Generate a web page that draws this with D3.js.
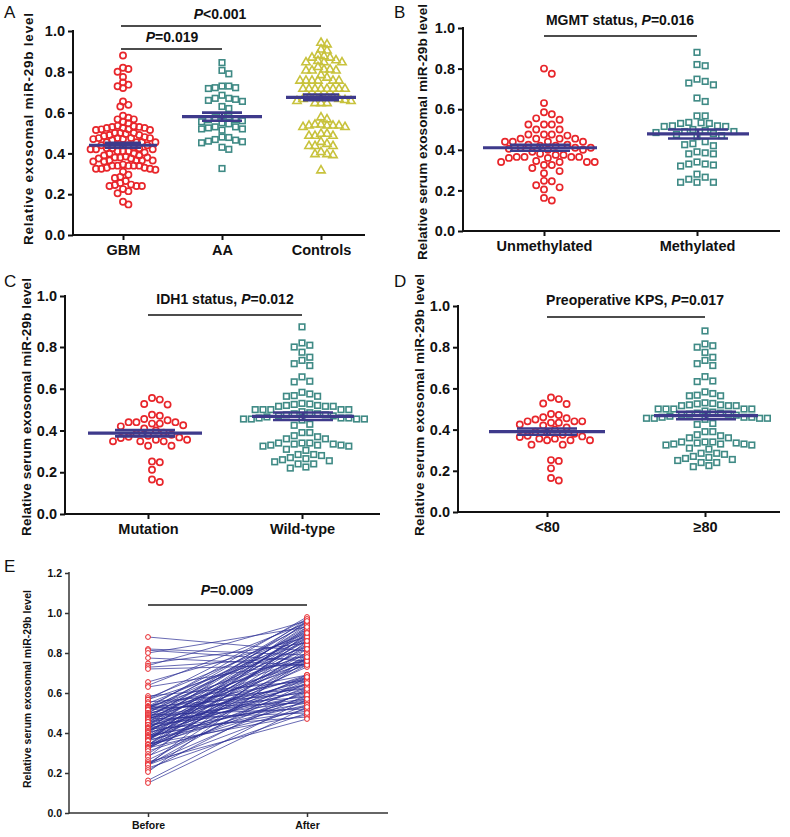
<!DOCTYPE html>
<html><head><meta charset="utf-8">
<script src="https://cdn.jsdelivr.net/npm/d3@7"></script>
<style>
html,body{margin:0;padding:0;background:#fff;}
text{font-family:Arial,"Liberation Sans",sans-serif;}
</style></head>
<body>
<svg id="fig" width="790" height="837"></svg>
<script>
// ---------------- DATA ----------------
const catsA = ["GBM", "AA", "Controls"];
const gbmVals = [0.88,0.82,0.814,0.80,0.775,0.748,0.737,0.729,0.72,0.655,0.638,0.63,0.585,0.575,0.567,0.567,0.555,0.548,0.535,0.533,0.53,0.53,0.525,0.525,0.525,0.518,0.518,0.515,0.515,0.50,0.50,0.50,0.495,0.49,0.49,0.485,0.48,0.475,0.475,0.475,0.475,0.47,0.47,0.465,0.455,0.455,0.455,0.455,0.44,0.44,0.44,0.44,0.44,0.43,0.425,0.425,0.425,0.42,0.42,0.42,0.41,0.41,0.41,0.405,0.40,0.40,0.39,0.39,0.385,0.38,0.38,0.38,0.375,0.375,0.365,0.365,0.365,0.365,0.36,0.36,0.345,0.34,0.34,0.34,0.34,0.34,0.33,0.33,0.325,0.325,0.325,0.32,0.31,0.295,0.285,0.28,0.265,0.255,0.247,0.245,0.24,0.24,0.24,0.225,0.215,0.205,0.163,0.15];
const aaVals = [0.845,0.807,0.79,0.73,0.73,0.722,0.722,0.718,0.685,0.67,0.67,0.665,0.66,0.655,0.63,0.62,0.584,0.58,0.575,0.566,0.565,0.56,0.555,0.55,0.545,0.53,0.53,0.525,0.52,0.52,0.514,0.48,0.478,0.468,0.465,0.46,0.457,0.452,0.43,0.42,0.326];
const ctrlVals = [0.946,0.938,0.913,0.908,0.886,0.88,0.873,0.873,0.86,0.857,0.85,0.85,0.85,0.827,0.815,0.815,0.81,0.81,0.81,0.787,0.775,0.76,0.76,0.76,0.76,0.76,0.76,0.72,0.72,0.72,0.72,0.72,0.72,0.72,0.72,0.68,0.68,0.68,0.68,0.68,0.67,0.67,0.665,0.66,0.66,0.65,0.65,0.65,0.58,0.57,0.545,0.545,0.54,0.54,0.54,0.54,0.533,0.533,0.5,0.5,0.49,0.49,0.49,0.46,0.45,0.44,0.44,0.44,0.41,0.4,0.4,0.395,0.32];
const meansA = [0.44, 0.58, 0.675];
const semsA = [0.012, 0.02, 0.014];

const catsB = ["Unmethylated", "Methylated"];
const unmethVals = [0.80,0.775,0.63,0.585,0.575,0.555,0.548,0.525,0.525,0.525,0.50,0.50,0.475,0.475,0.475,0.47,0.455,0.455,0.455,0.455,0.44,0.44,0.44,0.44,0.425,0.425,0.42,0.42,0.41,0.41,0.41,0.405,0.40,0.40,0.39,0.38,0.375,0.375,0.365,0.365,0.365,0.365,0.36,0.36,0.345,0.34,0.34,0.34,0.34,0.325,0.325,0.31,0.295,0.285,0.247,0.245,0.225,0.215,0.205,0.163,0.15];
const methVals = [0.88,0.82,0.814,0.748,0.737,0.729,0.72,0.655,0.638,0.567,0.567,0.535,0.533,0.53,0.53,0.518,0.518,0.515,0.515,0.50,0.495,0.49,0.49,0.485,0.48,0.475,0.47,0.465,0.44,0.43,0.425,0.42,0.39,0.385,0.38,0.38,0.34,0.33,0.33,0.325,0.32,0.28,0.265,0.255,0.24,0.24,0.24];
const meansB = [0.41, 0.478];
const semsB = [0.015, 0.022];

const catsC = ["Mutation", "Wild-type"];
const mutVals = [0.556,0.548,0.527,0.524,0.476,0.471,0.455,0.449,0.44,0.44,0.44,0.433,0.433,0.425,0.42,0.41,0.40,0.39,0.385,0.38,0.375,0.37,0.367,0.364,0.356,0.356,0.348,0.348,0.348,0.327,0.327,0.252,0.248,0.212,0.165,0.153];
const wildVals = [0.879,0.816,0.807,0.80,0.775,0.751,0.736,0.72,0.711,0.657,0.636,0.633,0.583,0.575,0.567,0.564,0.564,0.53,0.527,0.52,0.516,0.516,0.516,0.52,0.525,0.50,0.50,0.50,0.50,0.50,0.49,0.485,0.48,0.48,0.475,0.475,0.47,0.47,0.465,0.46,0.455,0.455,0.45,0.455,0.455,0.46,0.46,0.43,0.425,0.39,0.39,0.37,0.36,0.36,0.375,0.34,0.34,0.335,0.33,0.33,0.325,0.325,0.33,0.335,0.34,0.31,0.305,0.285,0.28,0.285,0.265,0.27,0.25,0.24,0.24,0.26,0.255,0.225,0.22];
const meansC = [0.387, 0.468];
const semsC = [0.015, 0.018];

const catsD = ["<80", "\u226580"];
const kpsLowVals = [0.556,0.548,0.527,0.524,0.476,0.471,0.46,0.455,0.449,0.44,0.44,0.44,0.433,0.433,0.425,0.42,0.41,0.40,0.39,0.385,0.38,0.375,0.37,0.367,0.364,0.356,0.356,0.348,0.348,0.348,0.327,0.327,0.252,0.248,0.212,0.165,0.153];
const kpsHighVals = [0.879,0.816,0.807,0.80,0.775,0.751,0.736,0.72,0.711,0.657,0.636,0.633,0.583,0.575,0.567,0.564,0.564,0.53,0.527,0.52,0.516,0.516,0.516,0.52,0.525,0.50,0.50,0.50,0.50,0.50,0.49,0.485,0.48,0.48,0.475,0.475,0.47,0.47,0.465,0.46,0.455,0.455,0.45,0.455,0.455,0.46,0.46,0.43,0.425,0.39,0.39,0.37,0.36,0.36,0.375,0.34,0.34,0.335,0.33,0.33,0.325,0.325,0.33,0.335,0.34,0.31,0.305,0.285,0.28,0.285,0.265,0.27,0.25,0.24,0.24,0.26,0.255,0.225,0.22];
const meansD = [0.39, 0.468];
const semsD = [0.015, 0.018];

const catsE = ["Before", "After"];
const beforeVals = [0.88,0.82,0.814,0.80,0.775,0.748,0.737,0.729,0.72,0.655,0.638,0.63,0.585,0.575,0.567,0.567,0.555,0.548,0.535,0.533,0.53,0.53,0.525,0.525,0.525,0.518,0.518,0.515,0.515,0.50,0.50,0.50,0.495,0.49,0.49,0.485,0.48,0.475,0.475,0.475,0.475,0.47,0.47,0.465,0.455,0.455,0.455,0.455,0.44,0.44,0.44,0.44,0.44,0.43,0.425,0.425,0.425,0.42,0.42,0.42,0.41,0.41,0.41,0.405,0.40,0.40,0.39,0.39,0.385,0.38,0.38,0.38,0.375,0.375,0.365,0.365,0.365,0.365,0.36,0.36,0.345,0.34,0.34,0.34,0.34,0.34,0.33,0.33,0.325,0.325,0.325,0.32,0.31,0.295,0.285,0.28,0.265,0.255,0.247,0.245,0.24,0.24,0.24,0.225,0.215,0.205,0.163,0.15];
const afterVals = [0.81,0.79,0.76,0.93,0.74,0.85,0.96,0.78,0.74,0.88,0.95,0.76,0.66,0.90,0.97,0.83,0.62,0.87,0.69,0.94,0.60,0.79,0.98,0.86,0.55,0.91,0.67,0.77,0.58,0.89,0.64,0.96,0.75,0.52,0.84,0.68,0.92,0.57,0.80,0.63,0.95,0.74,0.50,0.88,0.66,0.93,0.56,0.82,0.61,0.97,0.77,0.53,0.86,0.69,0.90,0.59,0.78,0.64,0.94,0.48,0.83,0.67,0.76,0.55,0.91,0.62,0.85,0.51,0.73,0.68,0.89,0.57,0.80,0.65,0.96,0.54,0.75,0.87,0.60,0.92,0.49,0.79,0.66,0.84,0.58,0.93,0.63,0.74,0.52,0.88,0.69,0.77,0.56,0.82,0.61,0.90,0.65,0.47,0.76,0.59,0.86,0.54,0.68,0.50,0.62,0.78,0.57,0.53];
const ticksAD = [0.0, 0.2, 0.4, 0.6, 0.8, 1.0];
const ticksE = [0.0, 0.2, 0.4, 0.6, 0.8, 1.0, 1.2];

// ---------------- STYLE ----------------
const RED = "#e8262b", TEAL = "#3f8a85", OLIVE = "#c8c23c", MEAN = "#3e3a8b";
const svg = d3.select("#fig");
const fmt = d3.format(".1f");

function swarm(vals, y, cx, diam) {
  const pts = vals.map(v => ({v, py: y(v)})).sort((a, b) => d3.descending(a.v, b.v));
  const placed = [];
  for (const p of pts) {
    let best = null;
    for (let k = 0; k < 80 && best === null; k++) {
      const cands = k === 0 ? [0] : [k * diam / 2, -k * diam / 2];
      for (const o of cands) {
        if (placed.every(q => (q.dx - o) ** 2 + (q.py - p.py) ** 2 >= (diam * 0.97) ** 2)) { best = o; break; }
      }
    }
    p.dx = best; placed.push(p);
  }
  return pts.map(p => ({v: p.v, py: p.py, px: cx + p.dx}));
}

function drawMarker(g, pts, shape, color) {
  if (shape === "circle") {
    g.selectAll(null).data(pts).join("circle")
      .attr("cx", d => d.px).attr("cy", d => d.py).attr("r", 3.1)
      .attr("fill", "none").attr("stroke", color).attr("stroke-width", 1.7);
  } else if (shape === "square") {
    const s = 5.6;
    g.selectAll(null).data(pts).join("rect")
      .attr("x", d => d.px - s / 2).attr("y", d => d.py - s / 2).attr("width", s).attr("height", s)
      .attr("fill", "none").attr("stroke", color).attr("stroke-width", 1.6);
  } else {
    const sym = d3.symbol(d3.symbolTriangle, 30);
    g.selectAll(null).data(pts).join("path")
      .attr("transform", d => `translate(${d.px},${d.py + 0.8})`).attr("d", sym)
      .attr("fill", "none").attr("stroke", color).attr("stroke-width", 1.6);
  }
}

function drawMean(g, cx, y, m, s, hw, hw2) {
  g.append("line").attr("x1", cx - hw).attr("x2", cx + hw).attr("y1", y(m)).attr("y2", y(m))
    .attr("stroke", MEAN).attr("stroke-width", 3.2);
  [m - s, m + s].forEach(v => g.append("line").attr("x1", cx - hw2).attr("x2", cx + hw2)
    .attr("y1", y(v)).attr("y2", y(v)).attr("stroke", MEAN).attr("stroke-width", 2.6));
  g.append("line").attr("x1", cx).attr("x2", cx).attr("y1", y(m - s)).attr("y2", y(m + s))
    .attr("stroke", MEAN).attr("stroke-width", 2.6);
}

function sigText(g, x, y, pre, post, size) {
  const t = g.append("text").attr("x", x).attr("y", y).attr("text-anchor", "middle")
    .attr("font-size", size).attr("font-weight", "bold").attr("fill", "#111");
  if (pre) t.append("tspan").text(pre);
  t.append("tspan").attr("font-style", "italic").text("P");
  t.append("tspan").text(post);
}

function axes(cfg) {
  const g = svg.append("g");
  const y = cfg.y, x = cfg.x;
  const ya = d3.axisLeft(y).tickValues(cfg.ticks).tickFormat(fmt).tickSize(cfg.tick).tickPadding(3).tickSizeOuter(0);
  const gy = g.append("g").attr("transform", `translate(${cfg.left},0)`).call(ya);
  gy.select(".domain").remove();
  gy.selectAll(".tick line").attr("stroke", cfg.axColor).attr("stroke-width", cfg.axW);
  gy.selectAll(".tick text").attr("font-size", cfg.tickFont).attr("font-weight", "bold").attr("fill", "#111")
    .attr("font-family", "Arial, 'Liberation Sans', sans-serif");
  const xa = d3.axisBottom(x).tickSize(cfg.tick).tickPadding(cfg.xPad).tickSizeOuter(0);
  const gx = g.append("g").attr("transform", `translate(0,${cfg.bottom})`).call(xa);
  gx.select(".domain").remove();
  gx.selectAll(".tick line").attr("stroke", cfg.axColor).attr("stroke-width", cfg.axW);
  gx.selectAll(".tick text").attr("font-size", cfg.catFont).attr("font-weight", "bold").attr("fill", "#111")
    .attr("font-family", "Arial, 'Liberation Sans', sans-serif");
  g.append("line").attr("x1", cfg.left).attr("x2", cfg.left).attr("y1", cfg.top).attr("y2", cfg.bottom + cfg.axW / 2)
    .attr("stroke", cfg.axColor).attr("stroke-width", cfg.axW);
  g.append("line").attr("x1", cfg.left).attr("x2", cfg.right).attr("y1", cfg.bottom).attr("y2", cfg.bottom)
    .attr("stroke", cfg.axColor).attr("stroke-width", cfg.axW);
  g.append("text").attr("transform", `translate(${cfg.labX},${cfg.labY}) rotate(-90)`)
    .attr("text-anchor", "middle").attr("font-size", cfg.labFont).attr("font-weight", "bold").attr("fill", "#111")
    .attr("textLength", cfg.labLen).attr("lengthAdjust", "spacing").text(cfg.label);
  svg.append("text").attr("x", cfg.letX).attr("y", cfg.letY).attr("font-size", 17).attr("fill", "#111").text(cfg.letter);
  return g;
}

// ---------------- PANEL A ----------------
{
  const y = d3.scaleLinear().domain([0, 1]).range([235, 31]);
  const x = d3.scalePoint().domain(catsA).range([123, 321]);
  const g = axes({y, x, left: 73, right: 365, top: 30, bottom: 235, ticks: ticksAD, tick: 5, axW: 2, axColor: "#111",
    tickFont: 14.5, catFont: 14.5, xPad: 5, label: "Relative exosomal miR-29b level", labX: 33, labY: 129, labFont: 13.5, labLen: 232,
    letter: "A", letX: 4, letY: 18});
  const sets = [[gbmVals, "circle", RED, 5.4], [aaVals, "square", TEAL, 6.8], [ctrlVals, "triangle", OLIVE, 6.0]];
  const hws = [[34, 18], [40, 20], [35, 18]];
  sets.forEach(([vals, shape, col, dm], i) => {
    drawMarker(g, swarm(vals, y, x(catsA[i]), dm), shape, col);
  });
  sets.forEach((s, i) => drawMean(g, x(catsA[i]), y, meansA[i], semsA[i], hws[i][0], hws[i][1]));
  g.append("line").attr("x1", x("GBM") - 2).attr("x2", x("Controls")).attr("y1", 26).attr("y2", 26).attr("stroke", "#111").attr("stroke-width", 1.6);
  g.append("line").attr("x1", x("GBM") - 2).attr("x2", x("AA")).attr("y1", 49).attr("y2", 49).attr("stroke", "#111").attr("stroke-width", 1.6);
  sigText(g, 220, 19, "", "<0.001", 14);
  sigText(g, 172, 42, "", "=0.019", 14);
}

// ---------------- PANEL B ----------------
{
  const y = d3.scaleLinear().domain([0, 1]).range([231, 28]);
  const x = d3.scalePoint().domain(catsB).range([544, 697]);
  const g = axes({y, x, left: 463, right: 780, top: 27, bottom: 231, ticks: ticksAD, tick: 5, axW: 2, axColor: "#111",
    tickFont: 14.5, catFont: 14.5, xPad: 5, label: "Relative serum exosomal miR-29b level", labX: 427, labY: 132, labFont: 13.5, labLen: 256,
    letter: "B", letX: 394, letY: 18});
  drawMarker(g, swarm(unmethVals, y, x(catsB[0]), 7.8), "circle", RED);
  drawMarker(g, swarm(methVals, y, x(catsB[1]), 8.2), "square", TEAL);
  drawMean(g, x(catsB[0]) - 4, y, meansB[0], semsB[0], 57, 30);
  drawMean(g, x(catsB[1]) + 1, y, meansB[1], semsB[1], 51, 30);
  g.append("line").attr("x1", x(catsB[0])).attr("x2", x(catsB[1])).attr("y1", 36).attr("y2", 36).attr("stroke", "#111").attr("stroke-width", 1.6);
  sigText(g, 620, 25, "MGMT status, ", "=0.016", 14);
}

// ---------------- PANEL C ----------------
{
  const y = d3.scaleLinear().domain([0, 0.8, 1]).range([514, 347, 296]);
  const x = d3.scalePoint().domain(catsC).range([148, 302]);
  const g = axes({y, x, left: 65, right: 380, top: 295, bottom: 514, ticks: ticksAD, tick: 5, axW: 2, axColor: "#111",
    tickFont: 14.5, catFont: 14.5, xPad: 5, label: "Relative serum exosomal miR-29b level", labX: 31, labY: 407, labFont: 13.5, labLen: 258,
    letter: "C", letX: 4, letY: 287});
  drawMarker(g, swarm(mutVals, y, x(catsC[0]) + 4, 7.8), "circle", RED);
  drawMarker(g, swarm(wildVals, y, x(catsC[1]), 7.8), "square", TEAL);
  drawMean(g, x(catsC[0]) - 3, y, meansC[0], semsC[0], 57, 30);
  drawMean(g, x(catsC[1]) + 1, y, meansC[1], semsC[1], 51, 30);
  g.append("line").attr("x1", x(catsC[0])).attr("x2", x(catsC[1])).attr("y1", 315).attr("y2", 315).attr("stroke", "#111").attr("stroke-width", 1.6);
  sigText(g, 225, 304, "IDH1 status, ", "=0.012", 14);
}

// ---------------- PANEL D ----------------
{
  const y = d3.scaleLinear().domain([0, 1]).range([512, 306]);
  const x = d3.scalePoint().domain(catsD).range([547, 705]);
  const g = axes({y, x, left: 458, right: 780, top: 305, bottom: 512, ticks: ticksAD, tick: 5, axW: 2, axColor: "#111",
    tickFont: 14.5, catFont: 14.5, xPad: 5, label: "Relative serum exosomal miR-29b level", labX: 424, labY: 405, labFont: 13.5, labLen: 262,
    letter: "D", letX: 394, letY: 287});
  drawMarker(g, swarm(kpsLowVals, y, x(catsD[0]) + 4, 7.8), "circle", RED);
  drawMarker(g, swarm(kpsHighVals, y, x(catsD[1]), 7.8), "square", TEAL);
  drawMean(g, x(catsD[0]), y, meansD[0], semsD[0], 58, 30);
  drawMean(g, x(catsD[1]) + 1, y, meansD[1], semsD[1], 52, 30);
  g.append("line").attr("x1", x(catsD[0])).attr("x2", x(catsD[1])).attr("y1", 317).attr("y2", 317).attr("stroke", "#111").attr("stroke-width", 1.6);
  sigText(g, 635, 305, "Preoperative KPS, ", "=0.017", 14);
}

// ---------------- PANEL E ----------------
{
  const y = d3.scaleLinear().domain([0, 1.2]).range([813, 573]);
  const x = d3.scalePoint().domain(catsE).range([148, 307]);
  const g = axes({y, x, left: 69, right: 388, top: 572, bottom: 813, ticks: ticksE, tick: 4, axW: 1.5, axColor: "#333",
    tickFont: 10.5, catFont: 10.5, xPad: 5, label: "Relative serum exosomal miR-29b level", labX: 31, labY: 689, labFont: 10.5, labLen: 198,
    letter: "E", letX: 4, letY: 572});
  const pairs = beforeVals.map((b, i) => [b, afterVals[i]]);
  g.append("g").selectAll("line").data(pairs).join("line")
    .attr("x1", x("Before")).attr("x2", x("After")).attr("y1", d => y(d[0])).attr("y2", d => y(d[1]))
    .attr("stroke", "#2c2f95").attr("stroke-opacity", 0.85).attr("stroke-width", 0.85);
  const pts = beforeVals.map(v => [x("Before"), y(v)]).concat(afterVals.map(v => [x("After"), y(v)]));
  g.append("g").selectAll("circle").data(pts).join("circle")
    .attr("cx", d => d[0]).attr("cy", d => d[1]).attr("r", 2.4)
    .attr("fill", "#fff").attr("stroke", RED).attr("stroke-width", 1);
  g.append("line").attr("x1", x("Before")).attr("x2", x("After")).attr("y1", 605).attr("y2", 605).attr("stroke", "#555").attr("stroke-width", 1.8);
  sigText(g, 227, 595, "", "=0.009", 14);
}
</script>
</body></html>
